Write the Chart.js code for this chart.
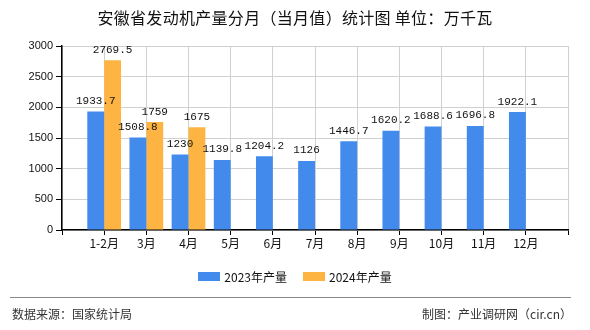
<!DOCTYPE html>
<html>
<head>
<meta charset="utf-8">
<script src="https://cdn.jsdelivr.net/npm/chart.js@4/dist/chart.umd.min.js"></script>
<style>
  html, body { margin: 0; padding: 0; background: #fff; }
  #wrap { position: relative; width: 590px; height: 330px; overflow: hidden; font-family: "Noto Sans CJK SC", sans-serif; }
  #chart { position: absolute; left: 0; top: 0; }
  #title { position: absolute; left: 0; top: 8px; width: 590px; text-align: center; font-size: 16px; line-height: 18px; letter-spacing: 0.3px; color: #111; }
  #legend { position: absolute; left: 0; top: 268px; width: 590px; display: flex; justify-content: center; font-size: 12px; line-height: 17px; color: #111; }
  .item { display: flex; align-items: center; margin: 0 8px; }
  .box { width: 22px; height: 9px; margin-right: 4px; }
  #rule { position: absolute; left: 10px; top: 297px; width: 561px; height: 0; border-top: 1.5px solid #8a8a8a; }
  .foot { position: absolute; top: 306px; font-size: 12px; line-height: 16px; color: #333; }
</style>
</head>
<body>
<div id="wrap">
  <canvas id="chart" width="590" height="330"></canvas>
  <div id="title">安徽省发动机产量分月（当月值）统计图 单位：万千瓦</div>
  <div id="legend"></div>
  <div id="rule"></div>
  <div class="foot" style="left:12px">数据来源：国家统计局</div>
  <div class="foot" style="right:18px">制图：产业调研网（cir.cn）</div>
</div>
<script>
/* ── Data ───────────────────────────────────────────────────────── */
const months   = ['1-2月', '3月', '4月', '5月', '6月', '7月', '8月', '9月', '10月', '11月', '12月'];
const out2023  = [1933.7, 1508.8, 1230, 1139.8, 1204.2, 1126, 1446.7, 1620.2, 1688.6, 1696.8, 1922.1];
const out2024  = [2769.5, 1759, 1675];
const yTicks   = [0, 500, 1000, 1500, 2000, 2500, 3000];
const series   = [
  { label: '2023年产量', values: out2023, color: '#428bed' },
  { label: '2024年产量', values: out2024, color: '#fdb443' },
];

// axis has one empty slot at each end, categories sit on the grid lines
const labels = [''].concat(months, ['']);
const pad = vals => [null].concat(months.map((m, i) => (i < vals.length ? vals[i] : null)), [null]);

/* ── Value labels above bars ────────────────────────────────────── */
const valueLabels = {
  id: 'valueLabels',
  afterDatasetsDraw(chart) {
    const ctx = chart.ctx;
    ctx.save();
    ctx.font = '11px "Liberation Mono", monospace';
    ctx.fillStyle = '#111';
    ctx.textAlign = 'center';
    ctx.textBaseline = 'bottom';
    chart.data.datasets.forEach((ds, di) => {
      chart.getDatasetMeta(di).data.forEach((bar, i) => {
        const v = ds.data[i];
        if (v == null) return;
        ctx.fillText(String(v), bar.x, bar.y - 5);
      });
    });
    ctx.restore();
  }
};

new Chart(document.getElementById('chart'), {
  type: 'bar',
  data: {
    labels,
    datasets: series.map(s => ({
      label: s.label,
      data: pad(s.values),
      backgroundColor: s.color,
      categoryPercentage: 0.8,
      barPercentage: 1.0,
    }))
  },
  options: {
    responsive: false,
    animation: false,
    layout: { padding: { top: 46, right: 22, bottom: 70, left: 0 } },
    plugins: { legend: { display: false }, title: { display: false }, tooltip: { enabled: false } },
    scales: {
      x: {
        offset: false,
        grid: { offset: false, color: '#d0d0d0', tickColor: '#000', tickLength: 5 },
        border: { color: '#000', width: 1.5 },
        ticks: { color: '#111', font: { size: 12, family: '"Noto Sans CJK SC", sans-serif' }, padding: 1, maxRotation: 0, autoSkip: false },
        afterFit: s => { s.height = 30; }
      },
      y: {
        min: 0, max: 3000,
        afterBuildTicks: s => { s.ticks = yTicks.map(v => ({ value: v })); },
        grid: { color: '#d0d0d0', tickColor: '#000', tickLength: 6 },
        border: { color: '#000', width: 1.5 },
        ticks: { color: '#111', font: { size: 11, family: '"Liberation Sans", sans-serif' }, padding: 3, callback: v => String(v) },
        afterFit: s => { s.width = 62; }
      }
    }
  },
  plugins: [valueLabels]
});

/* ── Legend ─────────────────────────────────────────────────────── */
document.getElementById('legend').innerHTML = series.map(s =>
  `<div class="item"><div class="box" style="background:${s.color}"></div>${s.label}</div>`
).join('');
</script>
</body>
</html>
